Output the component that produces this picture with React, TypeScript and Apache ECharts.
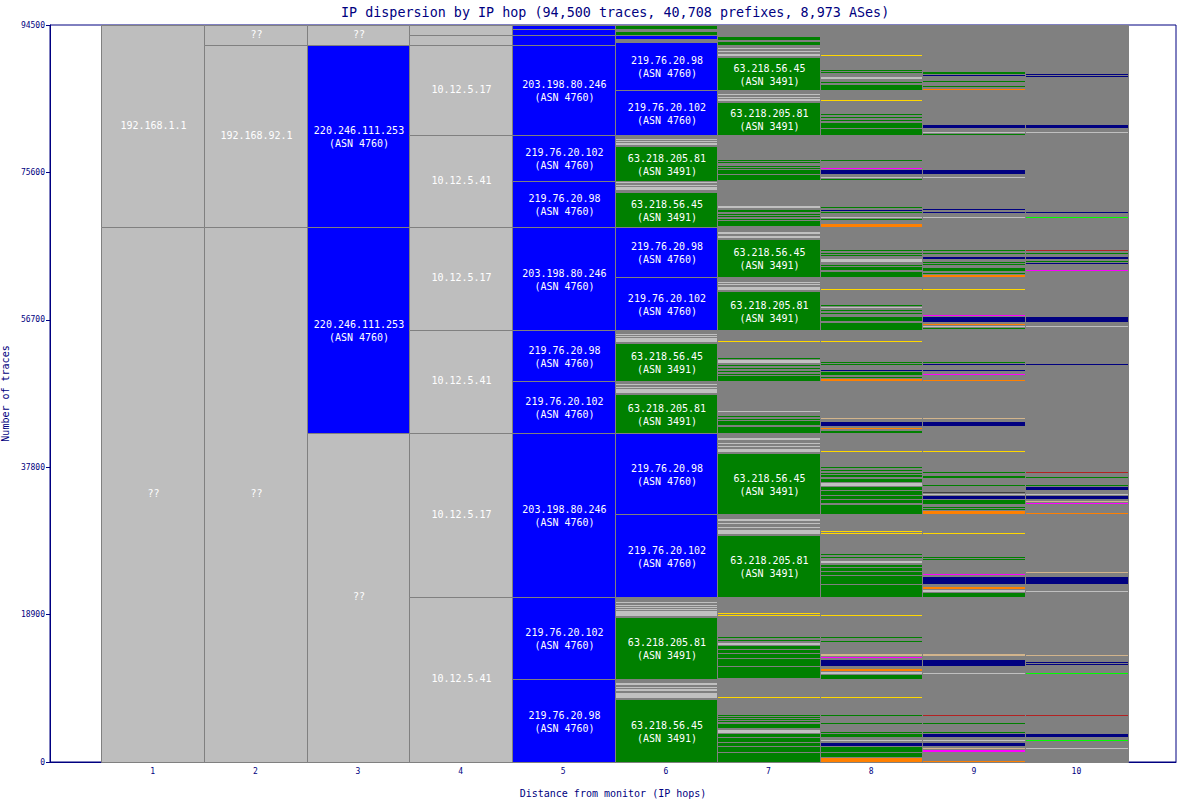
import React, { useEffect, useRef } from "react";
import * as echarts from "echarts";

const TITLE = "IP dispersion by IP hop (94,500 traces, 40,708 prefixes, 8,973 ASes)";
const hops = [1, 2, 3, 4, 5, 6, 7, 8, 9, 10];
const yTicks = [0, 18900, 37800, 56700, 75600, 94500];

const COLORS: Record<string, string> = {
  B: "#0000ff", G: "#008000", L: "#c0c0c0", N: "#000080", O: "#ff8000", M: "#ff00ff",
  Y: "#ffd700", T: "#d2b48c", R: "#b22222", V: "#00ff00", D: "#404040", S: "#bebebe", X: "#808080",
};

// [hop, low, high, color, ip, asn]
const blocks: [number, number, number, string, string, string][] = [
  [1, 68600, 94500, "S", "192.168.1.1", ""],
  [1, 0, 68600, "S", "??", ""],
  [2, 91950, 94500, "S", "??", ""],
  [2, 68600, 91950, "S", "192.168.92.1", ""],
  [2, 0, 68600, "S", "??", ""],
  [3, 91950, 94500, "S", "??", ""],
  [3, 68600, 91950, "B", "220.246.111.253", "4760"],
  [3, 42200, 68600, "B", "220.246.111.253", "4760"],
  [3, 0, 42200, "S", "??", ""],
  [4, 93220, 94500, "S", "", ""],
  [4, 91950, 93220, "S", "", ""],
  [4, 80400, 91950, "S", "10.12.5.17", ""],
  [4, 68600, 80400, "S", "10.12.5.41", ""],
  [4, 55400, 68600, "S", "10.12.5.17", ""],
  [4, 42200, 55400, "S", "10.12.5.41", ""],
  [4, 21150, 42200, "S", "10.12.5.17", ""],
  [4, 0, 21150, "S", "10.12.5.41", ""],
  [5, 93990, 94500, "B", "", ""],
  [5, 93220, 93990, "B", "", ""],
  [5, 91950, 93220, "B", "", ""],
  [5, 80400, 91950, "B", "203.198.80.246", "4760"],
  [5, 74500, 80400, "B", "219.76.20.102", "4760"],
  [5, 68600, 74500, "B", "219.76.20.98", "4760"],
  [5, 55400, 68600, "B", "203.198.80.246", "4760"],
  [5, 48850, 55400, "B", "219.76.20.98", "4760"],
  [5, 42200, 48850, "B", "219.76.20.102", "4760"],
  [5, 21150, 42200, "B", "203.198.80.246", "4760"],
  [5, 10650, 21150, "B", "219.76.20.102", "4760"],
  [5, 0, 10650, "B", "219.76.20.98", "4760"],
  [6, 0, 94500, "X", "", ""],
  [6, 86160, 92300, "B", "219.76.20.98", "4760"],
  [6, 80400, 86160, "B", "219.76.20.102", "4760"],
  [6, 74500, 79000, "G", "63.218.205.81", "3491"],
  [6, 68600, 73120, "G", "63.218.56.45", "3491"],
  [6, 62190, 68600, "B", "219.76.20.98", "4760"],
  [6, 55400, 62190, "B", "219.76.20.102", "4760"],
  [6, 48850, 53760, "G", "63.218.56.45", "3491"],
  [6, 42200, 47220, "G", "63.218.205.81", "3491"],
  [6, 31800, 42200, "B", "219.76.20.98", "4760"],
  [6, 21150, 31800, "B", "219.76.20.102", "4760"],
  [6, 10650, 18600, "G", "63.218.205.81", "3491"],
  [6, 0, 8080, "G", "63.218.56.45", "3491"],
  [7, 0, 94500, "X", "", ""],
  [7, 86200, 90430, "G", "63.218.56.45", "3491"],
  [7, 80400, 84590, "G", "63.218.205.81", "3491"],
  [7, 62190, 67060, "G", "63.218.56.45", "3491"],
  [7, 55400, 60390, "G", "63.218.205.81", "3491"],
  [7, 31800, 39620, "G", "63.218.56.45", "3491"],
  [7, 21150, 29110, "G", "63.218.205.81", "3491"],
  [8, 0, 94500, "X", "", ""],
  [9, 0, 94500, "X", "", ""],
  [10, 0, 94500, "X", "", ""],
];

// thin stripes: [low, high, color]
const stripes6: [number, number, string][] = [
  [93990, 94370, "G"], [93220, 93600, "G"], [92700, 93090, "B"],
  [79800, 79930, "L"], [79490, 79620, "L"], [79110, 79340, "L"],
  [74220, 74350, "L"], [73900, 74030, "L"], [73340, 73690, "L"],
  [54800, 54930, "L"], [54480, 54610, "L"], [53890, 54330, "L"],
  [48390, 48520, "L"], [47940, 48070, "L"], [47350, 47790, "L"],
  [20380, 20510, "L"], [20060, 20190, "L"], [19800, 19930, "L"], [19550, 19680, "L"], [18720, 19360, "L"],
  [9870, 10130, "L"], [9550, 9680, "L"], [9140, 9360, "L"], [8210, 8850, "L"],
];

const stripes7: [number, number, string][] = [
  [92610, 92960, "G"], [91930, 92320, "G"],
  [91420, 91550, "L"], [91040, 91170, "L"], [90560, 90820, "L"],
  [85530, 85650, "L"], [85210, 85330, "L"], [84750, 85050, "L"],
  [77130, 77250, "G"], [76750, 76870, "G"], [76360, 76480, "G"], [76040, 76160, "G"], [75390, 75910, "G"], [74620, 75270, "G"],
  [71030, 71330, "L"], [70720, 70840, "G"], [70460, 70590, "G"], [70140, 70270, "G"], [69820, 69950, "G"], [69500, 69630, "G"], [68730, 69410, "G"],
  [67900, 68020, "L"], [67640, 67770, "L"], [67190, 67440, "L"],
  [61420, 61550, "L"], [61100, 61230, "L"], [60520, 60900, "L"],
  [53860, 53980, "Y"], [51680, 51800, "G"], [51160, 51510, "L"], [50780, 50900, "G"], [50400, 50520, "G"], [50010, 50130, "G"], [49630, 49750, "G"], [48850, 49490, "G"],
  [44880, 45010, "L"], [44240, 44370, "G"], [43920, 44040, "G"], [43210, 43720, "G"], [42200, 42950, "G"],
  [41290, 41540, "L"], [40820, 40940, "L"], [40390, 40520, "L"], [39750, 40170, "L"],
  [30900, 31160, "L"], [30520, 30640, "L"], [30010, 30130, "L"], [29230, 29790, "L"],
  [18980, 19110, "Y"], [18720, 18850, "Y"], [15900, 16030, "G"], [15520, 15640, "G"], [15000, 15260, "L"], [14490, 14870, "G"], [13980, 14360, "G"], [13340, 13850, "G"], [12310, 13210, "G"], [10770, 12180, "G"],
  [8210, 8340, "Y"], [5900, 6030, "G"], [5650, 5770, "G"], [5390, 5510, "G"], [5130, 5260, "G"], [4360, 4870, "G"], [3720, 4100, "L"], [3210, 3590, "G"], [2570, 3080, "G"], [2050, 2440, "G"], [1280, 1920, "G"], [0, 1150, "G"],
];

const stripes8: [number, number, string][] = [
  [90560, 90690, "Y"],
  [88600, 88730, "G"], [88350, 88470, "G"], [87540, 87870, "L"], [87070, 87190, "G"], [86200, 86810, "G"],
  [84760, 84880, "Y"],
  [82960, 83090, "G"], [82580, 82700, "G"], [82260, 82380, "G"], [81290, 81890, "G"], [80400, 81120, "G"],
  [77130, 77250, "G"], [76040, 76160, "M"], [75390, 75910, "N"], [74820, 74950, "L"], [74570, 74690, "G"],
  [70980, 71100, "G"], [70720, 70840, "N"], [70390, 70560, "G"], [69760, 69880, "L"], [69500, 69630, "G"], [68650, 69020, "O"],
  [65530, 65650, "G"], [65140, 65260, "G"], [64890, 65010, "G"], [64110, 64460, "L"], [63670, 63790, "G"], [63090, 63470, "G"], [62190, 62870, "G"],
  [60530, 60650, "Y"],
  [58470, 58600, "G"], [58220, 58340, "L"], [57830, 57960, "G"], [57450, 57570, "G"], [56550, 57060, "G"], [55400, 56290, "G"],
  [53860, 53980, "Y"],
  [51170, 51290, "G"], [50910, 51030, "G"], [50140, 50260, "N"], [49620, 50010, "G"], [49240, 49360, "G"], [48850, 49150, "O"],
  [43990, 44110, "T"], [43080, 43600, "N"], [42700, 42830, "O"], [42200, 42480, "G"],
  [39750, 39880, "Y"], [37700, 37830, "G"], [37320, 37440, "G"], [36930, 37060, "G"], [36540, 36800, "G"], [35900, 36290, "G"], [35390, 35810, "L"], [34880, 35260, "G"], [34240, 34750, "G"], [33720, 34110, "G"], [33210, 33590, "G"], [31800, 32950, "G"],
  [29500, 29620, "Y"], [29240, 29360, "Y"],
  [26550, 26670, "G"], [26160, 26290, "G"], [25520, 25770, "L"], [25000, 25260, "G"], [24490, 24880, "G"], [23980, 24360, "G"], [22820, 23850, "G"], [21150, 22700, "G"],
  [18720, 18850, "Y"], [15900, 16030, "G"], [15390, 15520, "G"], [13590, 13850, "T"], [13340, 13460, "M"], [12310, 13080, "N"], [11670, 11930, "O"], [11280, 11540, "L"], [10650, 11160, "G"],
  [8210, 8340, "Y"], [5900, 6030, "G"], [4880, 5000, "G"], [3720, 3850, "G"], [3210, 3590, "G"], [2700, 2820, "L"], [2050, 2440, "N"], [1280, 1920, "G"], [640, 1150, "G"], [0, 510, "O"],
];

const stripes9: [number, number, string][] = [
  [88220, 88470, "G"], [87930, 88050, "N"], [87260, 87380, "G"], [86620, 86740, "G"], [86170, 86290, "O"],
  [81290, 81680, "N"], [80590, 80720, "L"], [80400, 80520, "G"],
  [75390, 75910, "N"], [74820, 74950, "L"],
  [70780, 70910, "N"], [70400, 70520, "N"], [69760, 69880, "L"],
  [65530, 65650, "G"], [65140, 65260, "G"], [64530, 64790, "N"], [63990, 64110, "G"], [63730, 63850, "G"], [62960, 63380, "G"], [62580, 62700, "G"], [62190, 62440, "O"],
  [60530, 60650, "Y"],
  [57190, 57320, "M"], [56450, 57060, "N"], [56040, 56160, "O"], [55780, 55900, "L"], [55520, 55650, "G"],
  [51170, 51290, "G"], [50910, 51030, "N"], [50140, 50260, "N"], [49630, 49750, "M"], [48860, 48980, "O"],
  [43990, 44110, "T"], [43080, 43600, "N"],
  [39750, 39880, "Y"], [37060, 37190, "G"], [36420, 36670, "G"], [35390, 35520, "G"], [34500, 34620, "D"], [34240, 34360, "L"], [33720, 34110, "N"], [33080, 33590, "G"], [32570, 32700, "G"], [32320, 32440, "G"], [31800, 32180, "O"],
  [29240, 29360, "Y"],
  [26160, 26290, "G"], [25900, 26030, "G"], [23980, 24110, "M"], [22820, 23720, "N"], [22180, 22440, "O"], [21800, 22050, "L"], [21150, 21670, "G"],
  [13590, 13850, "T"], [12310, 13080, "N"], [11290, 11410, "L"],
  [5900, 6030, "R"], [4880, 5000, "G"], [3720, 3850, "G"], [3210, 3590, "N"], [2700, 2820, "L"], [2050, 2440, "N"], [1670, 1800, "T"], [1280, 1540, "M"], [0, 130, "O"],
];

const stripes10: [number, number, string][] = [
  [88160, 88280, "N"], [87900, 88020, "N"],
  [81290, 81680, "N"], [80590, 80720, "L"],
  [70400, 70520, "N"], [69760, 69880, "V"],
  [65530, 65650, "R"], [65140, 65260, "G"], [64530, 64790, "N"], [64120, 64240, "G"], [63860, 63980, "N"], [62960, 63090, "M"],
  [56450, 57060, "N"], [55780, 55900, "L"],
  [50910, 51030, "N"],
  [37060, 37190, "R"], [36420, 36540, "G"], [35390, 35520, "G"], [34880, 35260, "N"], [34240, 34360, "L"], [33720, 34110, "N"], [33340, 33470, "T"], [33090, 33210, "M"], [31800, 31930, "O"],
  [24240, 24360, "T"], [22820, 23720, "N"], [21800, 21930, "L"],
  [13600, 13720, "T"], [12700, 12820, "N"], [12440, 12570, "N"], [11290, 11410, "V"],
  [5900, 6030, "R"], [3210, 3590, "N"], [2700, 2820, "V"], [1670, 1800, "L"],
];

const stripesByHop: [number, [number, number, string][]][] = [
  [6, stripes6], [7, stripes7], [8, stripes8], [9, stripes9], [10, stripes10],
];

type Meta = { kind: "block" | "stripe"; color: string; label: string };

export default function App() {
  const ref = useRef<HTMLDivElement>(null);
  useEffect(() => {
    if (!ref.current) return;
    const chart = echarts.init(ref.current, null, { renderer: "svg" });
    const data: number[][] = [];
    const meta: Meta[] = [];
    blocks.forEach(([hop, lo, hi, c, ip, asn]) => {
      data.push([hop, lo, hi]);
      meta.push({ kind: "block", color: COLORS[c], label: asn ? `${ip}\n(ASN ${asn})` : ip });
    });
    stripesByHop.forEach(([hop, list]) => {
      list.forEach(([lo, hi, c]) => {
        data.push([hop, lo, hi]);
        meta.push({ kind: "stripe", color: COLORS[c], label: "" });
      });
    });
    const mono = '"DejaVu Sans Mono", monospace';
    chart.setOption({
      animation: false,
      backgroundColor: "#ffffff",
      title: {
        text: TITLE,
        left: 336,
        top: 1,
        textStyle: { color: "#000080", fontSize: 13.4, fontWeight: "normal", fontFamily: mono },
      },
      grid: {
        left: 50, right: 2, top: 25, bottom: 38,
        containLabel: false,
        outerBoundsMode: "none",
        show: true, borderColor: "#000080", borderWidth: 1, backgroundColor: "transparent",
      },
      xAxis: {
        type: "value",
        min: 0,
        max: 10.97,
        interval: 1,
        name: "Distance from monitor (IP hops)",
        nameLocation: "middle",
        nameGap: 26,
        nameTextStyle: { color: "#000080", fontSize: 10, fontFamily: mono },
        axisLine: { show: true, lineStyle: { color: "#000080" } },
        axisTick: { show: false },
        splitLine: { show: false },
        axisLabel: {
          color: "#000080", fontSize: 8, fontFamily: mono, margin: 5,
          showMinLabel: false, showMaxLabel: false,
          formatter: (v: number) => (hops.indexOf(v) >= 0 ? String(v) : ""),
        },
      },
      yAxis: {
        type: "value",
        min: yTicks[0],
        max: yTicks[yTicks.length - 1],
        interval: yTicks[1] - yTicks[0],
        name: "Number of traces",
        nameLocation: "middle",
        nameGap: 36,
        nameTextStyle: { color: "#000080", fontSize: 10, fontFamily: mono },
        axisLine: { show: true, lineStyle: { color: "#000080" } },
        axisTick: { show: true, length: 4, lineStyle: { color: "#000080" } },
        splitLine: { show: false },
        axisLabel: {
          color: "#000080", fontSize: 8, fontFamily: mono, margin: 5,
          formatter: (v: number) => String(v),
        },
      },
      series: [
        {
          type: "custom",
          data,
          encode: { x: 0, y: [1, 2] },
          clip: false,
          renderItem: (params: any, api: any) => {
            const m = meta[params.dataIndex];
            const hop = api.value(0);
            const lo = api.value(1);
            const hi = api.value(2);
            const a = api.coord([hop - 0.5, hi]);
            const b = api.coord([hop + 0.5, lo]);
            const x0 = Math.round(a[0]);
            const x1 = Math.round(b[0]);
            const y0 = Math.round(a[1]);
            const y1 = Math.round(b[1]);
            if (m.kind === "stripe") {
              return {
                type: "rect",
                shape: { x: x0 + 1, y: y0, width: x1 - x0 - 1, height: Math.max(1, y1 - y0) },
                style: { fill: m.color },
              };
            }
            const children: any[] = [
              {
                type: "rect",
                shape: { x: x0 + 0.5, y: y0 + 0.5, width: x1 - x0, height: y1 - y0 },
                style: { fill: m.color, stroke: "#808080", lineWidth: 1 },
              },
            ];
            if (m.label) {
              const multi = m.label.indexOf("\n") >= 0;
              children.push({
                type: "text",
                style: {
                  text: m.label,
                  x: (x0 + x1) / 2 + 1,
                  y: (y0 + y1) / 2 + (multi ? 1 : -1),
                  fill: "#ffffff",
                  font: `10px ${mono}`,
                  align: "center",
                  verticalAlign: "middle",
                  lineHeight: 13,
                },
              });
            }
            return { type: "group", children };
          },
        },
      ],
    });
    return () => chart.dispose();
  }, []);
  return (
    <div
      ref={ref}
      style={{ position: "absolute", left: 0, top: 0, width: 1178, height: 800 }}
    />
  );
}
